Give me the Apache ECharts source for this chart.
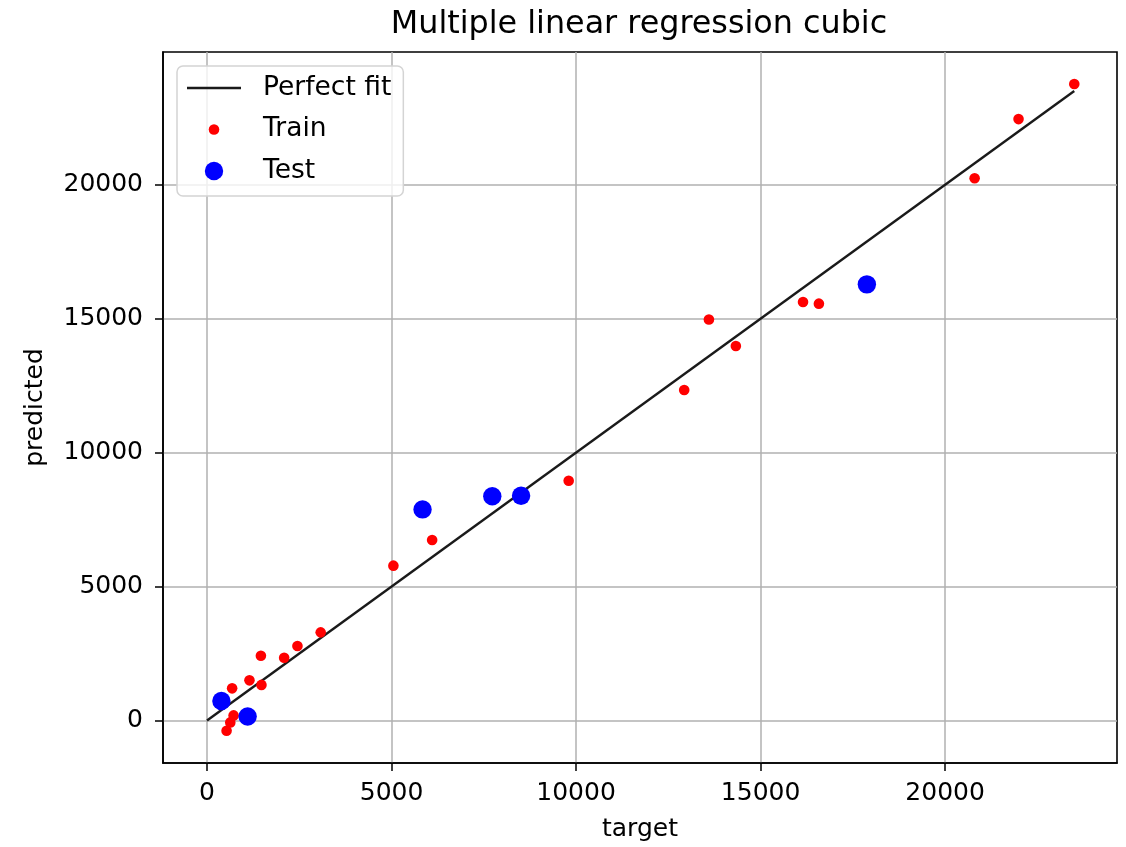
<!DOCTYPE html>
<html>
<head>
<meta charset="utf-8">
<script src="https://cdn.jsdelivr.net/npm/echarts@6/dist/echarts.min.js"></script>
<style>
html, body { margin: 0; padding: 0; background: #fff; }
#chart { width: 1126px; height: 847px; }
</style>
</head>
<body>
<div id="chart"></div>
<script>
// ---- data ----
const trainTarget = [680, 1150, 1460, 1475, 2090, 2450, 3080, 720, 630, 530,
                     5050, 6100, 9800, 12930, 13600, 14330, 16150, 16580, 20800, 21990, 23500];
const trainPredicted = [1200, 1500, 2420, 1330, 2340, 2780, 3290, 190, -70, -380,
                        5780, 6740, 8950, 12340, 14970, 13980, 15620, 15560, 20240, 22450, 23760];
const testTarget = [390, 1100, 5840, 7730, 8510, 17880];
const testPredicted = [730, 150, 7880, 8370, 8390, 16280];
const perfectFitX = [0, 23500];
const perfectFitY = [0, 23500];
const tickValues = [0, 5000, 10000, 15000, 20000];
const titleText = 'Multiple linear regression cubic';
const xName = 'target';
const yName = 'predicted';

const zip = (a, b) => a.map((v, i) => [v, b[i]]);

const FONT = 'DejaVu Sans';
const chart = echarts.init(document.getElementById('chart'), null, { renderer: 'canvas' });

const axisCommon = {
  type: 'value',
  nameLocation: 'middle',
  nameTextStyle: { fontFamily: FONT, fontSize: 25, color: '#000' },
  axisLine: { show: true, onZero: false, lineStyle: { color: '#000', width: 1.6 } },
  axisTick: { show: true, inside: false, length: 8, lineStyle: { color: '#000', width: 1.5 }, customValues: tickValues },
  axisLabel: { fontFamily: FONT, fontSize: 25, color: '#000', customValues: tickValues,
               formatter: v => String(v) },
  splitLine: { show: true, lineStyle: { color: '#b0b0b0', width: 1.5 } }
};

const option = {
  animation: false,
  backgroundColor: '#fff',
  title: {
    text: titleText,
    left: 634, top: 4, textAlign: 'center',
    textStyle: { fontFamily: FONT, fontSize: 31.8, fontWeight: 'normal', color: '#000' }
  },
  grid: {
    left: 163, right: 9, top: 52, bottom: 84,
    show: true, borderColor: '#000', borderWidth: 1.6, backgroundColor: 'transparent'
  },
  xAxis: Object.assign({}, axisCommon, {
    min: -1193, max: 24658,
    name: xName, nameGap: 54,
    axisLabel: Object.assign({}, axisCommon.axisLabel, { margin: 18 })
  }),
  yAxis: Object.assign({}, axisCommon, {
    min: -1586, max: 24954,
    name: yName, nameGap: 115,
    axisLabel: Object.assign({}, axisCommon.axisLabel, { margin: 20 })
  }),
  legend: {
    orient: 'vertical',
    left: 177, top: 66,
    padding: [7, 12, 10, 10],
    itemWidth: 71, itemHeight: 30, itemGap: 11.5,
    selectedMode: false,
    backgroundColor: 'rgba(255,255,255,0.8)',
    borderColor: '#d4d4d4', borderWidth: 1.5, borderRadius: 6,
    textStyle: { fontFamily: FONT, fontSize: 26.5, color: '#000', lineHeight: 30 },
    data: [
      { name: 'Perfect fit', icon: 'path://M0,0M71,30M0,13.8L54,13.8L54,16.2L0,16.2Z', itemStyle: { color: '#1a1a1a', borderWidth: 0 } },
      { name: 'Train', icon: 'path://M0,0M71,30M32.3,15A5.3,5.3,0,1,0,21.7,15A5.3,5.3,0,1,0,32.3,15Z', itemStyle: { color: '#ff0000', borderWidth: 0 } },
      { name: 'Test', icon: 'path://M0,0M71,30M36.2,15A9.2,9.2,0,1,0,17.8,15A9.2,9.2,0,1,0,36.2,15Z', itemStyle: { color: '#0000ff', borderWidth: 0 } }
    ]
  },
  series: [
    {
      name: 'Perfect fit', type: 'line',
      data: zip(perfectFitX, perfectFitY),
      symbol: 'none', silent: true, z: 2,
      lineStyle: { color: '#1a1a1a', width: 2.4 },
      itemStyle: { color: '#1a1a1a' }
    },
    {
      name: 'Train', type: 'scatter',
      data: zip(trainTarget, trainPredicted),
      symbolSize: 10.6, z: 3,
      itemStyle: { color: '#ff0000', opacity: 1 }
    },
    {
      name: 'Test', type: 'scatter',
      data: zip(testTarget, testPredicted),
      symbolSize: 18.4, z: 4,
      itemStyle: { color: '#0000ff', opacity: 1 }
    }
  ]
};
chart.setOption(option);
</script>
</body>
</html>
